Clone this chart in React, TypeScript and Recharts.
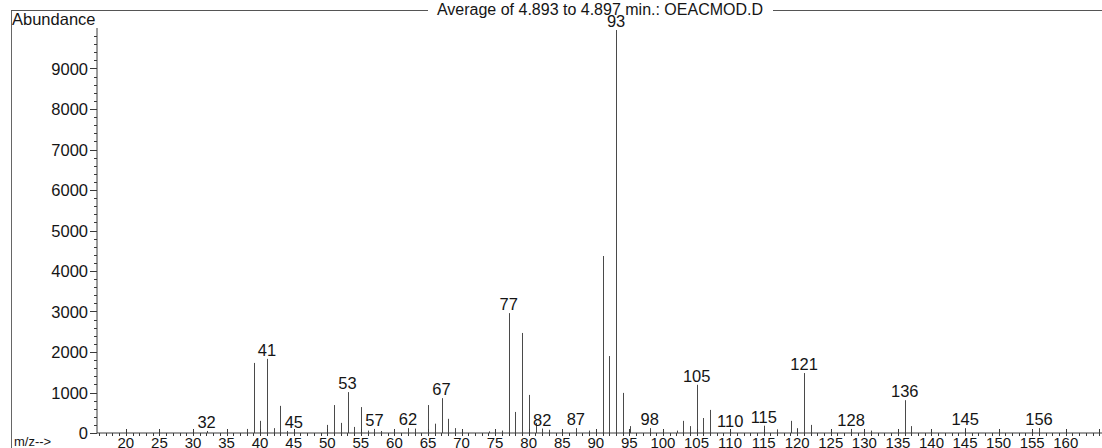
import { ComposedChart, Bar, XAxis, YAxis, LabelList } from 'recharts'

// m/z values and abundances
const MASSES = [
  32, 38, 39, 40, 41, 42, 43, 44, 45, 50, 51, 52, 53, 54, 55, 56, 57, 58,
  62, 63, 65, 66, 67, 68, 69, 74, 76, 77, 78, 79, 80, 81, 82, 83, 87, 89,
  91, 92, 93, 94, 95, 98, 102, 103, 104, 105, 106, 107, 110, 115, 117,
  119, 120, 121, 122, 128, 131, 136, 137, 145, 156,
]
const ABUNDANCE = [
  50, 100, 1730, 300, 1830, 120, 670, 50, 60, 200, 690, 250, 1010, 150, 640, 60, 100, 50,
  120, 110, 690, 230, 860, 350, 120, 40, 60, 2960, 520, 2470, 940, 250, 110, 80, 120, 60,
  4370, 1900, 9950, 990, 170, 120, 60, 300, 170, 1190, 370, 570, 80, 180, 90,
  300, 120, 1480, 200, 100, 60, 810, 170, 120, 120,
]
const LABELED = [32, 41, 45, 53, 57, 62, 67, 77, 82, 87, 93, 98, 105, 110, 115, 121, 128, 136, 145, 156]

const Y_LABELS = [0, 1000, 2000, 3000, 4000, 5000, 6000, 7000, 8000, 9000]
const X_LABELS = [20, 25, 30, 35, 40, 45, 50, 55, 60, 65, 70, 75, 80, 85, 90, 95, 100, 105, 110, 115, 120, 125, 130, 135, 140, 145, 150, 155, 160]

const FONT = '"Liberation Sans", Arial, sans-serif'
const INK = '#151515'
const LINE = '#3a3a3a'

const data = MASSES.map((mz, i) => ({
  mz,
  ab: ABUNDANCE[i],
  lbl: LABELED.includes(mz) ? String(mz) : undefined,
}))

const yTicks: number[] = []
for (let v = 0; v <= 9800; v += 200) yTicks.push(v)
const xTicks: number[] = []
for (let v = 16; v <= 165; v++) xTicks.push(v)

function Peak(props: any) {
  const { x, y, width, height } = props
  if (x == null || height == null) return null
  const cx = Math.round(x + width / 2) + 0.5
  return <line x1={cx} x2={cx} y1={y} y2={y + height} stroke="#4a4a4a" strokeWidth={1} />
}

function YTick({ x, y, payload }: any) {
  const v = payload.value
  const major = Y_LABELS.includes(v)
  const yy = Math.round(y) + 0.5
  return (
    <g>
      <line x1={x - (major ? 7 : 3)} x2={x} y1={yy} y2={yy} stroke={LINE} />
      {major && (
        <text x={x - 9} y={y} dy={6} textAnchor="end" fill={INK} fontSize={16.5} fontFamily={FONT}>
          {v}
        </text>
      )}
    </g>
  )
}

function XTick({ x, y, payload }: any) {
  const v = payload.value
  const major = v % 5 === 0
  const xx = Math.round(x) + 0.5
  return (
    <g>
      <line x1={xx} x2={xx} y1={major ? y - 4 : y} y2={y + 3} stroke={LINE} />
      {X_LABELS.includes(v) && (
        <text x={x} y={y + 14.5} textAnchor="middle" fill={INK} fontSize={15} fontFamily={FONT}>
          {v}
        </text>
      )}
    </g>
  )
}

export default function App() {
  return (
    <div style={{ position: 'absolute', left: 0, top: 0, width: 1102, height: 448, background: '#fff', overflow: 'hidden' }}>
      <ComposedChart width={1102} height={448} data={data} margin={{ top: 28, right: 0, left: 0, bottom: 0 }}>
        <XAxis
          type="number"
          dataKey="mz"
          domain={[15.7, 165.4]}
          allowDataOverflow
          ticks={xTicks}
          interval={0}
          height={15}
          tickSize={0}
          tickMargin={0}
          tick={<XTick />}
          axisLine={{ stroke: LINE }}
        />
        <YAxis
          type="number"
          domain={[0, 10000]}
          allowDataOverflow
          ticks={yTicks}
          interval={0}
          width={97}
          tickSize={0}
          tickMargin={0}
          tick={<YTick />}
          axisLine={{ stroke: LINE }}
        />
        <Bar dataKey="ab" barSize={1} shape={<Peak />} isAnimationActive={false}>
          <LabelList dataKey="lbl" position="top" offset={3} fill={INK} fontSize={16.5} fontFamily={FONT} />
        </Bar>
      </ComposedChart>
      <svg width={1102} height={448} style={{ position: 'absolute', left: 0, top: 0, pointerEvents: 'none' }}>
        <line x1={11.5} x2={11.5} y1={10} y2={448} stroke="#666" />
        <line x1={11} x2={428} y1={10.5} y2={10.5} stroke="#555" />
        <line x1={773} x2={1102} y1={10.5} y2={10.5} stroke="#555" />
        <text x={12} y={25} fill={INK} fontSize={16.5} fontFamily={FONT}>Abundance</text>
        <text x={600} y={14.5} textAnchor="middle" fill={INK} fontSize={16} fontFamily={FONT}>
          Average of 4.893 to 4.897 min.: OEACMOD.D
        </text>
        <text x={14} y={446} fill={INK} fontSize={13} fontFamily={FONT}>m/z--&gt;</text>
      </svg>
    </div>
  )
}
